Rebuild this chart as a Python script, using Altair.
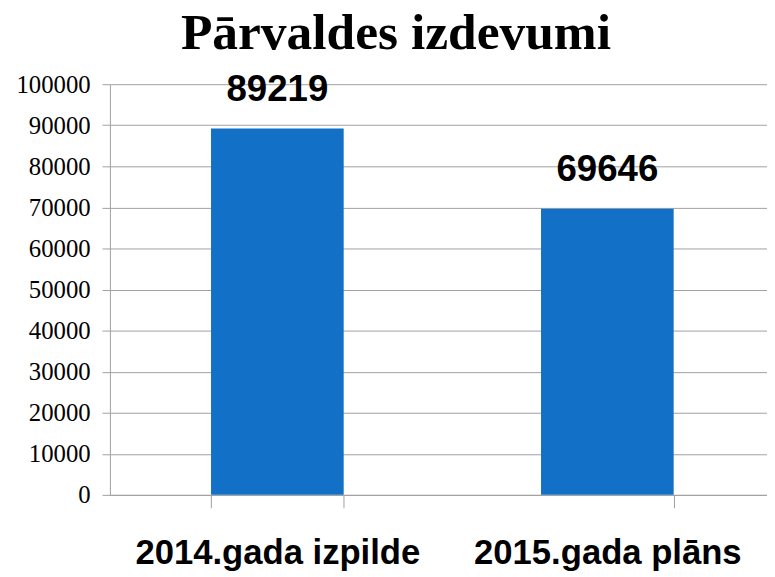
import altair as alt
import pandas as pd

categories = ["2014.gada izpilde", "2015.gada plāns"]
values = [89219, 69646]
y_ticks = [0, 10000, 20000, 30000, 40000, 50000, 60000, 70000, 80000, 90000, 100000]

df = pd.DataFrame({"cat": categories, "val": values})

SERIF = "Liberation Serif, Times New Roman, serif"
SANS = "Liberation Sans, Arial, sans-serif"

base = alt.Chart(df).encode(
    x=alt.X("cat:N", sort=categories, title=None,
            scale=alt.Scale(paddingInner=0.598, paddingOuter=0.2946, align=0.52),
            axis=alt.Axis(labelAngle=0, labelFont=SANS, labelFontWeight="bold",
                          labelFontSize=35, labelColor="black", labelPadding=28,
                          labelLimit=0, tickBand="extent", tickSize=13,
                          tickColor="#a0a0a0", domainColor="#a0a0a0", grid=False)),
    y=alt.Y("val:Q", title=None,
            scale=alt.Scale(domain=[0, 100000], nice=False),
            axis=alt.Axis(values=y_ticks, labelFont=SERIF, labelFontSize=25,
                          labelColor="black", labelPadding=12, tickSize=8,
                          tickColor="#a0a0a0", domainColor="#a0a0a0",
                          gridColor="#a0a0a0", format="d")),
)

bars = base.mark_bar(color="#1270C6")
labels = base.mark_text(dy=-28, baseline="alphabetic", font=SANS,
                        fontWeight="bold", fontSize=37, color="black").encode(text="val:Q")

chart = (bars + labels).properties(
    width=664, height=415,
    title=alt.Title("Pārvaldes izdevumi", font=SERIF, fontSize=52,
                    fontWeight="bold", color="black", anchor="middle", dx=-43,
                    baseline="alphabetic", offset=0, dy=30),
    autosize=alt.AutoSizeParams(type="none"),
    padding={"left": 103, "top": 74, "right": 0, "bottom": 80},
    background="white",
).configure_view(stroke=None)

chart.save("out.html", embed_options={"renderer": "svg", "actions": False})
